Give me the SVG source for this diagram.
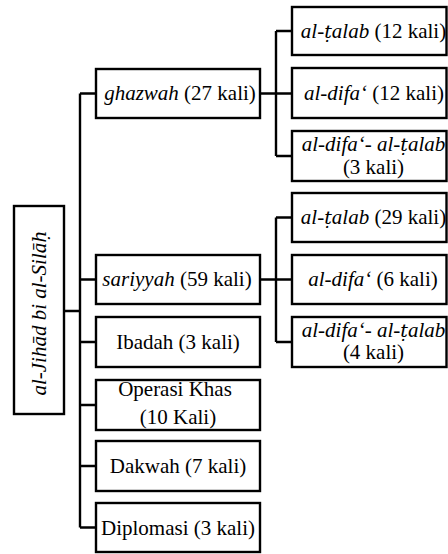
<svg xmlns="http://www.w3.org/2000/svg" width="448" height="554" viewBox="0 0 448 554">
<rect width="448" height="554" fill="#fff"/>
<g id="connectors" fill="none" stroke="#000" stroke-width="2.4">
<path d="M64,311H80M80,93.5V527.5M80,93.5H96M80,279.5H96M80,342H96M80,405H96M80,466H96M80,527.5H96"/>
<path d="M260,93.5H276M276,31V156M276,31H292M276,93.5H292M276,156H292"/>
<path d="M260,279.5H276M276,217.5V342M276,217.5H292M276,279.5H292M276,342H292"/>
</g>
<g fill="#fff" stroke="#000" stroke-width="2.4">
<rect id="root-box" x="14" y="206" width="50" height="208"/>
<rect id="ghazwah-box" x="96" y="69" width="164" height="49"/>
<rect id="sariyyah-box" x="96" y="255" width="164" height="49"/>
<rect id="ibadah-box" x="96" y="317" width="164" height="50"/>
<rect id="operasi-box" x="96" y="380" width="164" height="50"/>
<rect id="dakwah-box" x="96" y="441" width="164" height="50"/>
<rect id="diplomasi-box" x="96" y="503" width="164" height="49"/>
<rect id="g-talab-box" x="292" y="7" width="154.5" height="48"/>
<rect id="g-difa-box" x="292" y="68" width="154.5" height="50"/>
<rect id="g-difa-talab-box" x="292" y="131" width="154.5" height="50"/>
<rect id="s-talab-box" x="292" y="193" width="154.5" height="49"/>
<rect id="s-difa-box" x="292" y="255" width="154.5" height="49"/>
<rect id="s-difa-talab-box" x="292" y="317" width="154.5" height="50"/>
</g>
<g font-family="Liberation Serif" font-size="21" text-anchor="middle" fill="#000">
<text id="root" font-style="italic" transform="translate(46,313) rotate(-90)">al-Jih&#x101;d bi al-Sil&#x101;<tspan font-family="DejaVu Serif" font-size="19">&#x1E25;</tspan></text>
<text id="ghazwah" x="180" y="100"><tspan font-style="italic">ghazwah</tspan> (27 kali)</text>
<text id="sariyyah" x="177" y="286"><tspan font-style="italic">sariyyah</tspan> (59 kali)</text>
<text id="ibadah" x="178" y="349">Ibadah (3 kali)</text>
<g id="operasi"><text x="175" y="396">Operasi Khas</text><text x="178" y="424">(10 Kali)</text></g>
<text id="dakwah" x="178" y="473">Dakwah (7 kali)</text>
<text id="diplomasi" x="178" y="535">Diplomasi (3 kali)</text>
<text id="g-talab" x="373.5" y="38"><tspan font-style="italic">al-<tspan font-family="DejaVu Serif" font-size="19">&#x1E6D;</tspan>alab</tspan> (12 kali)</text>
<text id="g-difa" x="374" y="100"><tspan font-style="italic">al-difa&#x2018;</tspan> (12 kali)</text>
<g id="g-difa-talab"><text font-style="italic" x="373.5" y="151">al-difa&#x2018;- al-<tspan font-family="DejaVu Serif" font-size="19">&#x1E6D;</tspan>alab</text><text x="373.5" y="174">(3 kali)</text></g>
<text id="s-talab" x="373.5" y="224"><tspan font-style="italic">al-<tspan font-family="DejaVu Serif" font-size="19">&#x1E6D;</tspan>alab</tspan> (29 kali)</text>
<text id="s-difa" x="373" y="286"><tspan font-style="italic">al-difa&#x2018;</tspan> (6 kali)</text>
<g id="s-difa-talab"><text font-style="italic" x="373.5" y="337">al-difa&#x2018;- al-<tspan font-family="DejaVu Serif" font-size="19">&#x1E6D;</tspan>alab</text><text x="373.5" y="359">(4 kali)</text></g>
</g>
</svg>
